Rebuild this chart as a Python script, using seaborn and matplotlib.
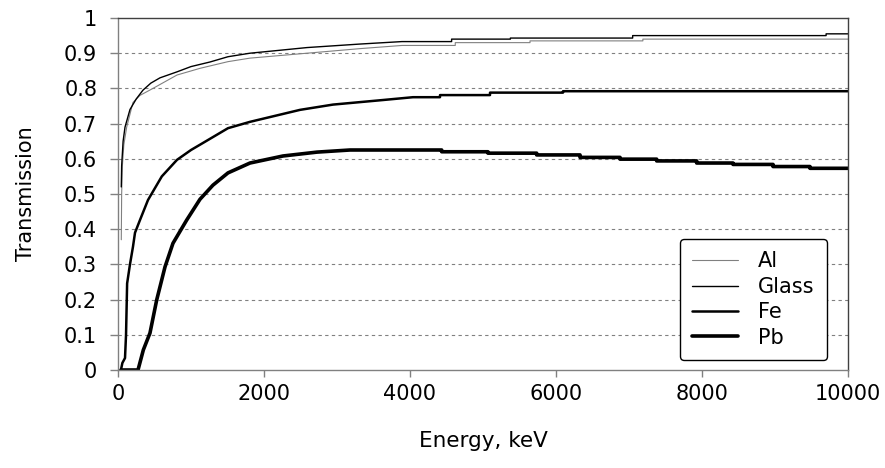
import matplotlib
matplotlib.use("Agg")
import matplotlib.pyplot as plt
import seaborn as sns
import pandas as pd

# ---- data ----
al_energy = [45, 50, 60, 80, 119, 205, 300, 479, 808, 1123, 1507, 1808, 2589, 3315, 3890,
             4620, 4620, 5644, 5644, 7190, 7190, 10000]
al_trans = [0.37, 0.50, 0.58, 0.64, 0.69, 0.76, 0.78, 0.80, 0.838, 0.857, 0.876, 0.886, 0.90,
            0.913, 0.922, 0.922, 0.93, 0.93, 0.935, 0.935, 0.94, 0.94]

glass_energy = [45, 50, 70, 96, 164, 250, 342, 450, 575, 808, 1000, 1260, 1507, 1808, 2200,
                2589, 3315, 3890, 4570, 4570, 5375, 5375, 7050, 7050, 9700, 9700, 10000]
glass_trans = [0.52, 0.58, 0.65, 0.69, 0.74, 0.77, 0.795, 0.815, 0.83, 0.847, 0.862, 0.875,
               0.89, 0.90, 0.908, 0.916, 0.926, 0.933, 0.933, 0.94, 0.94, 0.943, 0.943, 0.95,
               0.95, 0.955, 0.955]

fe_energy = [40, 60, 96, 110, 125, 164, 205, 233, 301, 411, 600, 808, 1000, 1164, 1507, 1808,
             2493, 2945, 3630, 4041, 4411, 4411, 5096, 5096, 6096, 6096, 10000]
fe_trans = [0.0, 0.02, 0.034, 0.10, 0.246, 0.30, 0.35, 0.39, 0.426, 0.483, 0.55, 0.597, 0.625,
            0.645, 0.687, 0.705, 0.739, 0.754, 0.767, 0.775, 0.775, 0.781, 0.781, 0.788, 0.788,
            0.792, 0.792]

pb_energy = [40, 274, 347, 438, 530, 644, 753, 941, 1123, 1300, 1507, 1808, 2260, 2726, 3178,
             4434, 4434, 5068, 5068, 5735, 5735, 6329, 6329, 6877, 6877, 7379, 7379, 7927, 7927,
             8425, 8425, 8973, 8973, 9479, 9479, 10000]
pb_trans = [0.0, 0.0, 0.057, 0.105, 0.199, 0.293, 0.36, 0.426, 0.485, 0.525, 0.56, 0.588, 0.608,
            0.619, 0.625, 0.625, 0.62, 0.62, 0.616, 0.616, 0.611, 0.611, 0.604, 0.604, 0.599,
            0.599, 0.594, 0.594, 0.588, 0.588, 0.584, 0.584, 0.578, 0.578, 0.573, 0.573]

x_ticks = [0, 2000, 4000, 6000, 8000, 10000]
x_tick_labels = ["0", "2000", "4000", "6000", "8000", "10000"]
y_ticks = [0, 0.1, 0.2, 0.3, 0.4, 0.5, 0.6, 0.7, 0.8, 0.9, 1.0]
y_tick_labels = ["0", "0.1", "0.2", "0.3", "0.4", "0.5", "0.6", "0.7", "0.8", "0.9", "1"]

series = [
    ("Al", al_energy, al_trans, "#808080", 0.8),
    ("Glass", glass_energy, glass_trans, "#000000", 1.0),
    ("Fe", fe_energy, fe_trans, "#000000", 1.8),
    ("Pb", pb_energy, pb_trans, "#000000", 2.6),
]

sns.set_theme(style="white")
plt.rcParams["font.family"] = ["DejaVu Sans"]
plt.rcParams["text.color"] = "black"
plt.rcParams["axes.labelcolor"] = "black"
plt.rcParams["xtick.color"] = "black"
plt.rcParams["ytick.color"] = "black"

fig = plt.figure(figsize=(8.85, 4.68), dpi=100)
ax = fig.add_axes([118 / 885, 1 - 370 / 468, (848 - 118) / 885, (370 - 18) / 468])

for name, e, t, color, lw in series:
    df = pd.DataFrame({"Energy": e, "Transmission": t})
    sns.lineplot(data=df, x="Energy", y="Transmission", ax=ax, color=color, linewidth=lw,
                 estimator=None, sort=False, label=name)

ax.set_xlim(0, 10000)
ax.set_ylim(0, 1)
ax.set_xticks(x_ticks)
ax.set_xticklabels(x_tick_labels, fontsize=15)
ax.set_yticks(y_ticks)
ax.set_yticklabels(y_tick_labels, fontsize=15)

for yv in y_ticks[1:-1]:
    ax.axhline(yv, color="#808080", linewidth=0.8, linestyle=(0, (3, 3)), zorder=0)

for side in ["left", "bottom"]:
    ax.spines[side].set_color("#808080")
    ax.spines[side].set_linewidth(1.0)
for side in ["top", "right"]:
    ax.spines[side].set_color("#404040")
    ax.spines[side].set_linewidth(1.0)

ax.tick_params(axis="y", which="major", direction="out", length=6, width=1,
               color="#808080", left=True, pad=9, labelcolor="black")
ax.tick_params(axis="x", which="major", direction="out", length=5, width=1,
               color="#808080", bottom=True, pad=5, labelcolor="black")

ax.set_xlabel("Energy, keV", fontsize=15.5)
ax.set_ylabel("Transmission", fontsize=15)
ax.xaxis.set_label_coords(0.5, -0.174)
ax.yaxis.set_label_coords(-0.112, 0.5)

leg = ax.legend(loc="lower right", bbox_to_anchor=(0.971, 0.028), borderaxespad=0,
                fontsize=15, frameon=True, fancybox=True, handlelength=2.2,
                handletextpad=0.95, labelspacing=0.26, borderpad=0.6)
leg.get_frame().set_edgecolor("black")
leg.get_frame().set_linewidth(1.0)
leg.get_frame().set_alpha(1)

fig.savefig("out.png", dpi=100)
